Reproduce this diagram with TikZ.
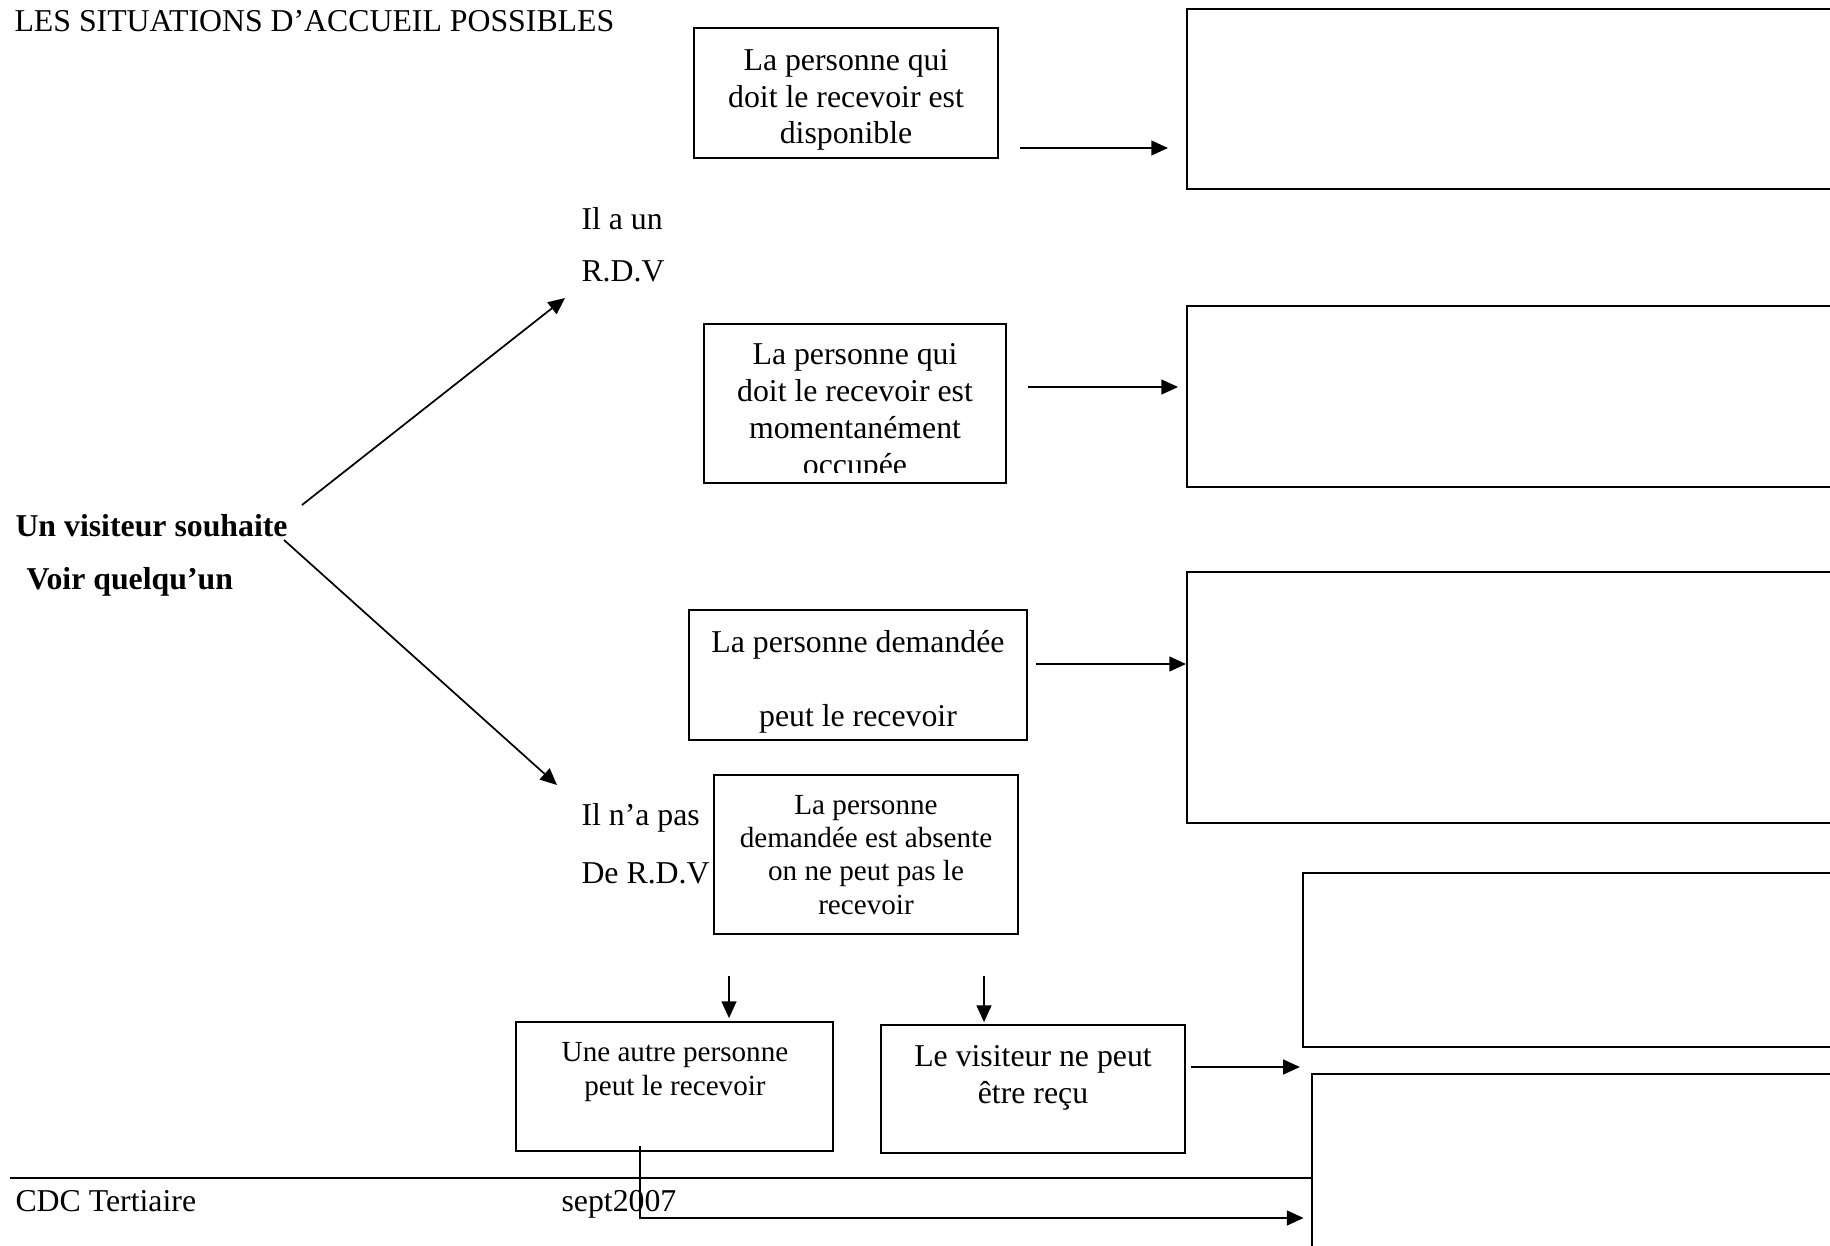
\documentclass[tikz,border=0pt]{standalone}
\usepackage{fontspec}
\setmainfont{Liberation Serif}
\usetikzlibrary{arrows.meta,fit}
\begin{document}
\begin{tikzpicture}[x=0.3774pt,y=-0.3774pt,
  box/.style={draw, line width=0.75pt, inner sep=0pt},
  txt/.style={inner sep=0pt, anchor=base west, font=\fontsize{12}{13.9}\selectfont},
  btxt/.style={inner sep=0pt, align=center, font=\fontsize{12}{13.9}\selectfont},
  stxt/.style={inner sep=0pt, align=center, font=\fontsize{11}{12.5}\selectfont},
  arr/.style={line width=0.65pt, -{Triangle[length=6.3pt,width=5.6pt]}},
  ln/.style={line width=0.65pt}]
\clip (0,0) rectangle (1830,1245);

% texts
\node[txt] (title) at (14,32) {LES SITUATIONS D’ACCUEIL POSSIBLES};
\node[txt] (ila1) at (581,230) {Il a un};
\node[txt] (ila2) at (581,282) {R.D.V};
\node[txt, font=\fontsize{12}{13.9}\selectfont\bfseries] (vis1) at (15,536) {Un visiteur souhaite};
\node[txt, font=\fontsize{12}{13.9}\selectfont\bfseries] (vis2) at (26,589) {Voir quelqu’un};
\node[txt] (nap1) at (581,825) {Il n’a pas};
\node[txt] (nap2) at (581,883) {De R.D.V};
\node[txt] (cdc) at (15,1211) {CDC Tertiaire};
\node[txt] (sept) at (561,1211) {sept2007};

% left boxes
\node[box, fit={(694,28)(998,158)}] (b1) {};
\node[btxt] (t1) at (846,100) {La personne qui\\doit le recevoir est\\disponible};
\node[box, fit={(704,324)(1006,483)}] (b2) {};
\begin{scope}
\clip (705,325) rectangle (1005,472);
\node[btxt] (t2) at (855,413) {La personne qui\\doit le recevoir est\\momentanément\\occupée};
\end{scope}
\node[box, fit={(689,610)(1027,740)}] (b3) {};
\node[btxt] (t3) at (858,682) {La personne demandée\\[13.9pt]peut le recevoir};
\node[box, fit={(714,775)(1018,934)}] (b4) {};
\node[stxt] (t4) at (866,855) {La personne\\demandée est absente\\on ne peut pas le\\recevoir};
\node[box, fit={(516,1022)(833,1151)}] (b5) {};
\node[stxt] (t5) at (675,1072) {Une autre personne\\peut le recevoir};
\node[box, fit={(881,1025)(1185,1153)}] (b6) {};
\node[btxt] (t6) at (1033,1078) {Le visiteur ne peut\\être reçu};

% right boxes (continuing past the page edge)
\node[box, fit={(1187,9)(1860,189)}] (bA) {};
\node[box, fit={(1187,306)(1860,487)}] (bB) {};
\node[box, fit={(1187,572)(1860,823)}] (bC) {};
\node[box, fit={(1303,873)(1860,1047)}] (bD) {};
\node[box, fit={(1312,1074)(1860,1280)}] (bE) {};

% connectors
\coordinate (r1) at (0,148);
\coordinate (r2) at (0,387);
\coordinate (r3) at (0,664);
\coordinate (r6) at (0,1067);
\coordinate (up0) at (302,505);
\coordinate (up1) at (565,298);
\coordinate (dn0) at (284,540);
\coordinate (dn1) at (557,785);
\coordinate (d1) at (729,976);
\coordinate (d2) at (984,976);
\coordinate (c5) at (640,1146);
\coordinate (r7) at (0,1218);
\coordinate (f1) at (10,1178);

\draw[arr, shorten <=8pt, shorten >=6.8pt] (b1.east |- r1) -- (bA.west |- r1);
\draw[arr, shorten <=8pt, shorten >=3pt] (b2.east |- r2) -- (bB.west |- r2);
\draw[arr, shorten <=3pt] (b3.east |- r3) -- (bC.west |- r3);
\draw[arr] (up0) -- (up1);
\draw[arr] (dn0) -- (dn1);
\draw[arr, shorten >=1.1pt] (d1) -- (b5.north -| d1);
\draw[arr, shorten >=0.7pt] (d2) -- (b6.north -| d2);
\draw[arr, shorten <=2pt, shorten >=0.8pt] (b6.east |- r6) -- (bD.west |- r6);
\draw[arr, shorten >=2.8pt] (c5) |- (bE.west |- r7);
\draw[line width=0.9pt] (f1) -- (bE.west |- f1);
\end{tikzpicture}
\end{document}
